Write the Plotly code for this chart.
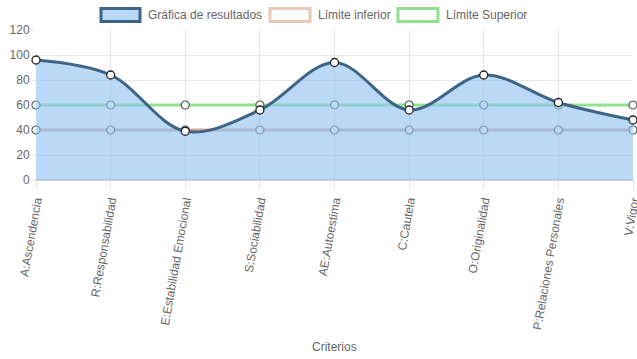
import plotly.graph_objects as go

categories = ["A:Ascendencia", "R:Responsabilidad", "E:Estabilidad Emocional", "S:Sociabilidad",
              "AE:Autoestima", "C:Cautela", "O:Originalidad", "P:Relaciones Personales", "V:Vigor"]
resultados = [96, 84, 39, 56, 94, 56, 84, 62, 48]
limite_inferior = [40, 40, 40, 40, 40, 40, 40, 40, 40]
limite_superior = [60, 60, 60, 60, 60, 60, 60, 60, 60]
y_ticks = [0, 20, 40, 60, 80, 100, 120]

W, H = 637, 359
ML, MR, MT = 36, 4, 30
MB = H - MT - 150

fig = go.Figure()
fig.add_trace(go.Scatter(x=list(range(len(categories))), y=limite_superior, mode="lines+markers",
                         line=dict(color="rgb(144,226,144)", width=3),
                         marker=dict(size=8, color="white", line=dict(color="#555", width=1.2)),
                         cliponaxis=False, showlegend=False))
fig.add_trace(go.Scatter(x=list(range(len(categories))), y=limite_inferior, mode="lines+markers",
                         line=dict(color="rgb(215,170,150)", width=3),
                         marker=dict(size=8, color="white", line=dict(color="#555", width=1.2)),
                         cliponaxis=False, showlegend=False))
fig.add_trace(go.Scatter(x=list(range(len(categories))), y=resultados, mode="lines+markers",
                         line=dict(color="rgb(62,100,134)", width=3, shape="spline", smoothing=1.0),
                         fill="tozeroy", fillcolor="rgba(144,194,242,0.62)",
                         marker=dict(size=8, color="white", line=dict(color="#222", width=1.3)),
                         cliponaxis=False, showlegend=False))

font = dict(family="Liberation Sans, Arial, sans-serif", size=12, color="#666")

# helpers: convert page pixels to paper coords
def px(x):
    return (x - ML) / (W - ML - MR)

def py(y):
    return (H - MB - y) / (H - MT - MB)

shapes = []
annotations = []
legend_items = [
    (101, 140, "rgba(144,194,242,0.62)", "rgb(62,100,134)", "Gráfica de resultados"),
    (270, 310, "white", "rgb(232,200,186)", "Límite inferior"),
    (398, 438, "white", "rgb(144,226,144)", "Límite Superior"),
]
for x0, x1, fc, lc, txt in legend_items:
    shapes.append(dict(type="rect", xref="paper", yref="paper", x0=px(x0), x1=px(x1),
                       y0=py(21.5), y1=py(8.5), fillcolor=fc, line=dict(color=lc, width=3)))
    annotations.append(dict(text=txt, xref="paper", yref="paper", x=px(x1 + 6), y=py(15),
                            xanchor="left", yanchor="middle", showarrow=False, font=font))
annotations.append(dict(text="Criterios", xref="paper", yref="paper", x=px(334), y=py(347),
                        xanchor="center", yanchor="middle", showarrow=False, font=font))

fig.update_layout(
    width=W, height=H, margin=dict(l=ML, r=MR, t=MT, b=MB, autoexpand=False),
    paper_bgcolor="white", plot_bgcolor="white", font=font,
    shapes=shapes, annotations=annotations, showlegend=False,
    xaxis=dict(range=[0, len(categories) - 1], tickmode="array", tickvals=list(range(len(categories))),
               ticktext=categories, tickangle=-80, showgrid=True, gridcolor="#e6e6e6",
               ticks="outside", ticklen=8, tickcolor="#e6e6e6", showline=False, zeroline=False,
               automargin=False, tickfont=font, ticklabeloverflow="allow"),
    yaxis=dict(range=[0, 120], tickvals=y_ticks, showgrid=True, gridcolor="#e6e6e6",
               ticks="outside", ticklen=3, tickcolor="#e6e6e6", zeroline=True, zerolinecolor="#d0d0d0",
               zerolinewidth=2, showline=False, automargin=False, tickfont=font),
)
fig.write_html("out.html", config={"displayModeBar": False},
               post_script="document.body.style.margin='0';document.body.style.overflow='hidden';")
